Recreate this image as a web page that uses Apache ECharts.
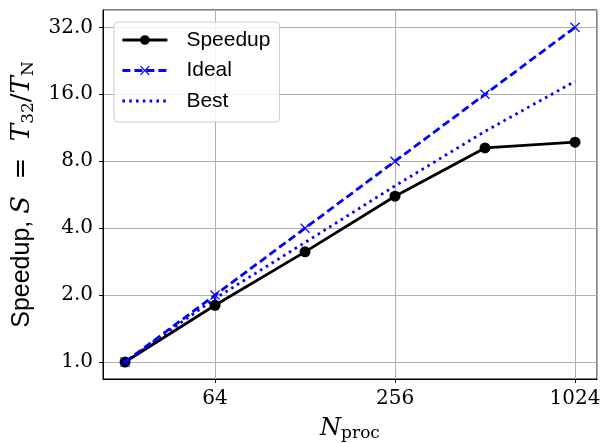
<!DOCTYPE html>
<html>
<head>
<meta charset="utf-8">
<script src="https://cdn.jsdelivr.net/npm/echarts@6/dist/echarts.min.js"></script>
<style>html,body{margin:0;padding:0;background:#fff}#c{width:601px;height:443px}</style>
</head>
<body>
<div id="c"></div>
<script>
const nProc = [32, 64, 128, 256, 512, 1024];
const speedup = [1.0, 1.80, 3.13, 5.57, 9.18, 9.74];
const ideal = [1, 2, 4, 8, 16, 32];
const best = [1.0, 1.93, 3.45, 6.2, 10.9, 18.3];
const xTicks = [64, 256, 1024];
const yTicks = [1, 2, 4, 8, 16, 32];

const pair = (ys) => nProc.map((x, i) => [x, ys[i]]);
const serif = 'DejaVu Serif';
const sans = 'Liberation Sans';
const xMark = 'path://M0,0.9L0.9,0L5,4.1L9.1,0L10,0.9L5.9,5L10,9.1L9.1,10L5,5.9L0.9,10L0,9.1L4.1,5Z';

const chart = echarts.init(document.getElementById('c'), null, {renderer: 'canvas'});
chart.setOption({
  animation: false,
  backgroundColor: '#fff',
  grid: {left: 103, right: 4, top: 10, bottom: 64, show: true, borderColor: '#000', borderWidth: 1,
         backgroundColor: 'transparent', outerBoundsMode: 'none', containLabel: false},
  legend: {
    left: 114, top: 22, orient: 'vertical',
    itemWidth: 45, itemHeight: 12, itemGap: 8.5,
    padding: [7, 9, 10, 7],
    backgroundColor: 'rgba(255,255,255,0.85)', borderColor: '#cccccc', borderWidth: 1, borderRadius: 4,
    lineStyle: {width: 2.8},
    textStyle: {fontFamily: sans, fontSize: 21, lineHeight: 22, color: '#000', padding: [0, 0, 0, 14]},
    data: [
      {name: 'Speedup'}, {name: 'Ideal'}, {name: 'Best', itemStyle: {opacity: 0}}
    ]
  },
  xAxis: {
    type: 'log', logBase: 4,
    min: 27.0, max: 1213,
    name: '{i|N}{s|proc}',
    nameLocation: 'middle', nameGap: 37,
    nameTextStyle: {rich: {
      i: {fontFamily: serif, fontStyle: 'italic', fontSize: 24, color: '#000', lineHeight: 26},
      s: {fontFamily: serif, fontSize: 17, color: '#000', verticalAlign: 'bottom', lineHeight: 16}
    }},
    axisLine: {show: true, lineStyle: {color: '#000', width: 1}},
    axisTick: {show: true, inside: false, length: 4, lineStyle: {color: '#000'}},
    axisLabel: {
      fontFamily: serif, fontSize: 20, color: '#000', margin: 10,
      showMinLabel: false, showMaxLabel: false,
      formatter: (v) => xTicks.includes(Math.round(v)) ? String(Math.round(v)) : ''
    },
    splitLine: {show: true, lineStyle: {color: '#b0b0b0', width: 1}},
    minorTick: {show: false}
  },
  yAxis: {
    type: 'log', logBase: 2,
    min: 0.839, max: 38.3,
    name: '{a|Speedup, }{i|S}{m|  =  }{i|T}{s|32}{m|/}{i|T}{s|N}',
    nameLocation: 'middle', nameRotate: 90, nameGap: 66,
    nameTextStyle: {rich: {
      a: {fontFamily: sans, fontSize: 25, color: '#000', lineHeight: 30},
      i: {fontFamily: serif, fontStyle: 'italic', fontSize: 26, color: '#000', lineHeight: 30},
      m: {fontFamily: serif, fontSize: 26, color: '#000', lineHeight: 30},
      s: {fontFamily: serif, fontSize: 17, color: '#000', verticalAlign: 'bottom', lineHeight: 17}
    }},
    axisLine: {show: true, lineStyle: {color: '#000', width: 1}},
    axisTick: {show: true, inside: false, length: 4, lineStyle: {color: '#000'}},
    axisLabel: {
      fontFamily: serif, fontSize: 20, color: '#000', margin: 10,
      showMinLabel: false, showMaxLabel: false,
      formatter: (v) => yTicks.some(t => Math.abs(t - v) < 1e-6) ? v.toFixed(1) : ''
    },
    splitLine: {show: true, lineStyle: {color: '#b0b0b0', width: 1}}
  },
  series: [
    {
      name: 'Speedup', type: 'line', data: pair(speedup),
      symbol: 'circle', symbolSize: 11,
      lineStyle: {color: '#000', width: 2.8},
      itemStyle: {color: '#000'}, z: 3
    },
    {
      name: 'Ideal', type: 'line', data: pair(ideal),
      symbol: xMark, symbolSize: 10,
      lineStyle: {color: '#0000ff', width: 2.8, type: [8, 4]},
      itemStyle: {color: '#0000ff'}, z: 4
    },
    {
      name: 'Best', type: 'line', data: pair(best),
      symbol: 'none', showSymbol: false,
      lineStyle: {color: '#0000ff', width: 2.8, type: [2.6, 4.2]},
      itemStyle: {color: '#0000ff'}, z: 2
    }
  ]
});
</script>
</body>
</html>
